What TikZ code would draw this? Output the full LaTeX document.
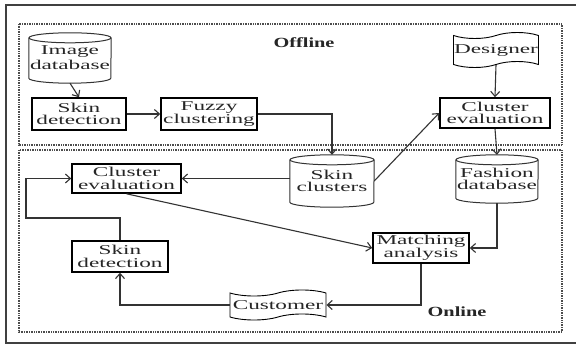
\documentclass[tikz,border=0pt]{standalone}
\usepackage{fontspec}
\setmainfont{Liberation Serif}[FakeStretch=1.72]
\newfontfamily\lblfont{Liberation Serif}[FakeStretch=1.45]
\usetikzlibrary{arrows.meta,shapes.symbols,calc}
\tikzset{
  txt/.style={font=\fontsize{13.5}{12.5}\selectfont, text=black!85},
  box/.style={txt, draw, line width=1.6pt, rectangle, inner sep=0pt, align=center},
  cylbox/.style={txt, draw=none, rectangle, inner sep=0pt, align=center},
  tapebox/.style={txt, draw, line width=0.9pt, tape, tape bend top=in and out, tape bend bottom=in and out, tape bend height=6pt, inner sep=0pt, align=center},
  conn/.style={line width=1.1pt, draw=black!80, -{Straight Barb[length=5pt,width=9pt,line width=1.1pt]}},
  cylline/.style={line width=1pt, draw=black!80},
  frame/.style={draw=black!70, line width=1.4pt, dash pattern=on 0.8pt off 0.9pt},
  lbl/.style={font=\lblfont\fontsize{14}{14}\selectfont\bfseries, text=black!85}
}
\newcommand\drawcyl[2]{%
  \draw[cylline] ($(#1.north west)+(0,5)$) -- ($(#1.south west)+(0,-5)$)
     arc[start angle=180,end angle=360,x radius=#2pt,y radius=5pt]
     -- ($(#1.north east)+(0,5)$);
  \draw[cylline] ($(#1.north)+(0,5)$) ellipse[x radius=#2pt,y radius=5pt];
}
\begin{document}
\begin{tikzpicture}[x=1pt,y=-1pt]
\useasboundingbox (0,0) rectangle (576,347);
\fill[white] (0,0) rectangle (576,347);
% outer frame
\draw[black!75, line width=1.6pt] (576,5) -- (6,5) -- (6,343) -- (576,343);
% dotted frames
\draw[frame] (19,24) rectangle (562,145);
\draw[frame] (19,150) rectangle (562,332);
\node[lbl] (off) at (304,43) {Offline};
\node[lbl] (on) at (457,312) {Online};
% nodes
\node[cylbox, minimum width=82pt, minimum height=50pt] (imgdb) at (70,58) {\raisebox{-4pt}{\shortstack{Image\\database}}};
\node[box, minimum width=94pt, minimum height=32pt] (skinOff) at (79,114) {Skin\\detection};
\node[box, minimum width=96pt, minimum height=32pt] (fuzzy) at (209,114) {Fuzzy\\clustering};
\node[tapebox, minimum width=85pt, minimum height=35pt] (designer) at (496,50) {Designer};
\node[box, minimum width=110pt, minimum height=30pt] (clevOff) at (495,113) {Cluster\\evaluation};
\node[cylbox, minimum width=84pt, minimum height=52pt] (sc) at (332,181) {\raisebox{-4pt}{\shortstack{Skin\\clusters}}};
\node[cylbox, minimum width=82pt, minimum height=48pt] (fashion) at (497,179) {\raisebox{-4pt}{\shortstack{Fashion\\database}}};
\node[box, minimum width=109pt, minimum height=29pt] (clevOn) at (126.5,178.5) {Cluster\\evaluation};
\node[box, minimum width=96pt, minimum height=31pt] (skinOn) at (120,256.5) {Skin\\detection};
\node[box, minimum width=96pt, minimum height=30pt] (match) at (421,248) {Matching\\analysis};
\node[tapebox, minimum width=96pt, minimum height=30pt] (customer) at (278,305) {Customer};
\drawcyl{imgdb}{41}
\drawcyl{sc}{42}
\drawcyl{fashion}{41}
% connectors
\draw[conn] (imgdb.south) -- (skinOff.north);
\draw[conn] (skinOff.east) -- (fuzzy.west);
\draw[conn] (fuzzy.east) -| (sc.north);
\draw[conn] (sc.east) -- (clevOff.west);
\draw[conn] (designer.south) -- (clevOff.north);
\draw[conn] (clevOff.south) -- (fashion.north);
\draw[conn] (clevOn.east -| sc.west) -- (clevOn.east);
\draw[conn] (clevOn.south) -- (match.west);
\draw[conn] (fashion.south) |- (match.east);
\draw[conn] (match.south) |- (customer.east);
\draw[conn] (customer.west) -| (skinOn.south);
\coordinate (lp) at (26,218);
\draw[conn] (skinOn.north) |- (lp) |- (clevOn.west);
\end{tikzpicture}
\end{document}
